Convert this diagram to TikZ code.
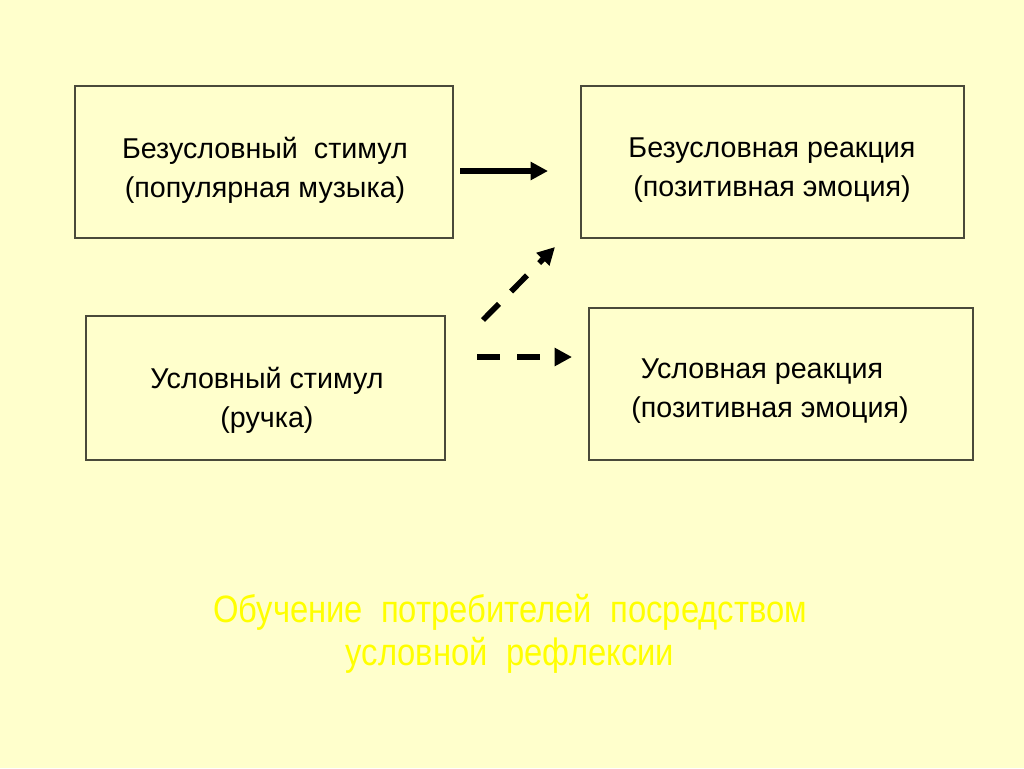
\documentclass[tikz,border=0pt]{standalone}
\usepackage{fontspec}
\setmainfont{Liberation Sans}
\newfontfamily\narrowfont[FakeStretch=0.86]{Liberation Sans}
\usetikzlibrary{arrows.meta}
\definecolor{bg}{HTML}{FFFFCC}
\definecolor{boxline}{HTML}{4A4A3A}
\definecolor{titlecol}{HTML}{FFFF00}
\tikzset{
  box/.style={draw=boxline, line width=0.9pt, fill=bg},
  lbl/.style={align=center, font=\fontsize{21.5}{29}\selectfont, text=black},
  arr/.style={line width=4.2pt, -{Triangle[length=13pt,width=13pt]}},
  darr/.style={arr, dash pattern=on 17pt off 13pt},
}
\begin{document}
\begin{tikzpicture}[x=0.75pt,y=-0.75pt]
\fill[bg] (0,0) rectangle (1024,768);
\useasboundingbox (0,0) rectangle (1024,768);
\draw[box] (75,86) rectangle (453,238);
\draw[box] (581,86) rectangle (964,238);
\draw[box] (86,316) rectangle (445,460);
\draw[box] (589,308) rectangle (973,460);
\node[lbl] (us) at (265,170) {Безусловный\ \ стимул\\(популярная музыка)};
\node[lbl] (ur) at (772,170) {Безусловная реакция\\(позитивная эмоция)};
\node[lbl] (cs) at (267,400) {Условный стимул\\(ручка)};
\node[lbl] (cr) at (770,391) {\hspace*{-12pt}Условная реакция\\(позитивная эмоция)};
\coordinate (a1s) at (460,171);
\coordinate (a1e) at (548,171);
\coordinate (a2s) at (483,320);
\coordinate (a2e) at (555,247);
\coordinate (a3s) at (477,357);
\coordinate (a3e) at (572,357);
\draw[arr] (a1s) -- (a1e);
\draw[darr] (a2s) -- (a2e);
\draw[darr] (a3s) -- (a3e);
\node[align=center, text=titlecol, font=\narrowfont\fontsize{28.6}{32.5}\selectfont] (title) at (510,634)
  {Обучение\ \ потребителей\ \ посредством\\условной\ \ рефлексии};
\end{tikzpicture}
\end{document}
